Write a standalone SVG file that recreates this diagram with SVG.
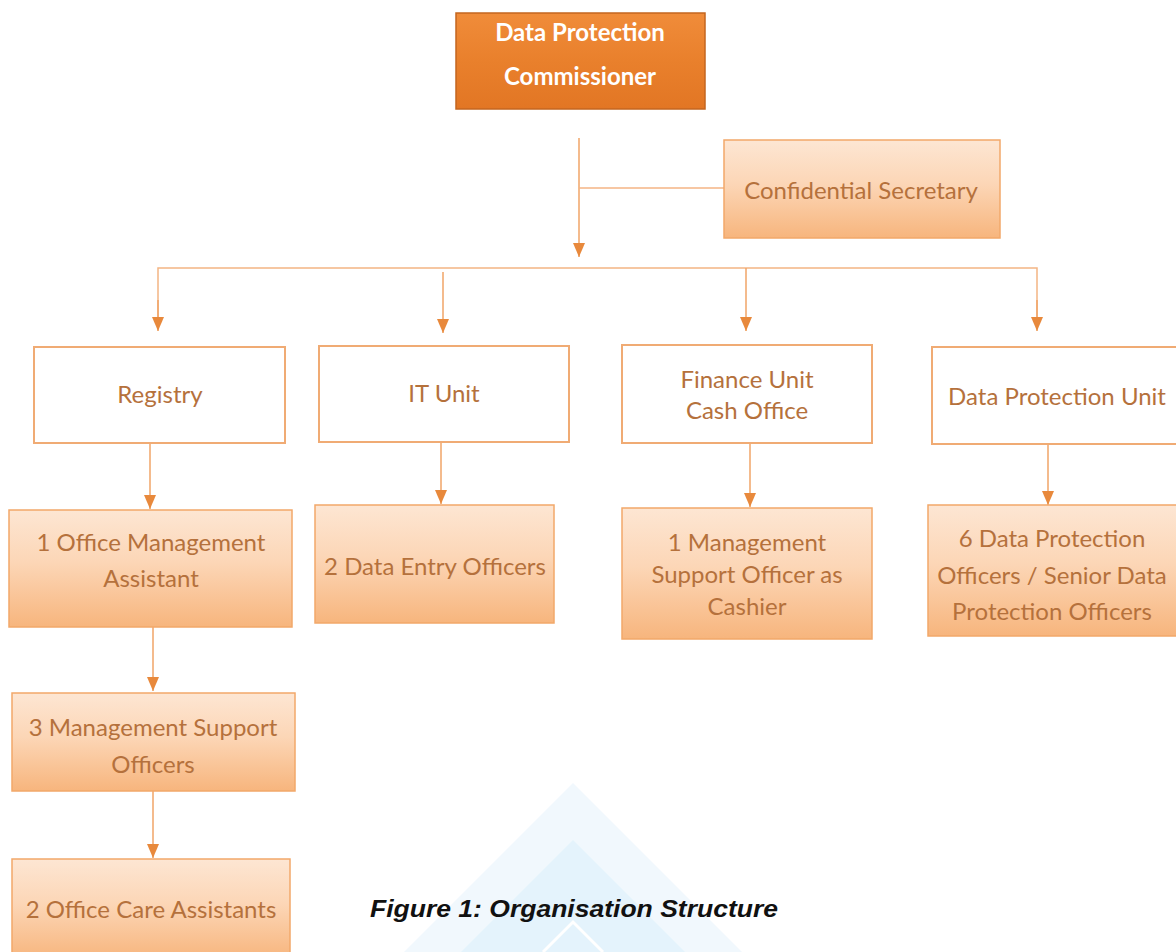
<svg xmlns="http://www.w3.org/2000/svg" width="1176" height="952" viewBox="0 0 1176 952">
<defs>
<linearGradient id="gTop" x1="0" y1="0" x2="0" y2="1">
<stop offset="0" stop-color="#f08c3a"/>
<stop offset="0.5" stop-color="#e9802c"/>
<stop offset="1" stop-color="#e27624"/>
</linearGradient>
<linearGradient id="gLight" x1="0" y1="0" x2="0" y2="1">
<stop offset="0" stop-color="#fde6d3"/>
<stop offset="0.45" stop-color="#fcd6b6"/>
<stop offset="1" stop-color="#f7b57d"/>
</linearGradient>
<marker id="arr" markerUnits="userSpaceOnUse" markerWidth="14" markerHeight="12" refX="14" refY="6" orient="auto" viewBox="0 0 14 12">
<path d="M0,0 L14,6 L0,12 Z" fill="#e8893c"/>
</marker>
<style>
.top{fill:url(#gTop);stroke:#c4661f;stroke-width:1.5}
.fill{fill:url(#gLight);stroke:#f2a86a;stroke-width:1.5}
.white{fill:#ffffff;stroke:#f0ab74;stroke-width:2}
.t{font-family:Lato,"Open Sans","Liberation Sans",sans-serif;font-size:24px;fill:#b5713c;text-anchor:middle}
.tw{font-family:Lato,"Open Sans","Liberation Sans",sans-serif;font-size:24px;font-weight:bold;fill:#ffffff;text-anchor:middle}
.c{fill:none;stroke:#f4b584;stroke-width:1.5}
.ca{fill:none;stroke:#f0a467;stroke-width:1.5;marker-end:url(#arr)}
.cap{font-family:"Liberation Sans",Arial,sans-serif;font-size:23px;font-weight:bold;font-style:italic;fill:#111111}
</style>
</defs>
<rect width="1176" height="952" fill="#ffffff"/>
<g id="watermark">
<polygon points="573,783 742,952 404,952" fill="#f1f8fd"/>
<polygon points="573,840 685,952 461,952" fill="#e4f3fc"/>
<polyline points="543,952 573,922 603,952" fill="none" stroke="#ffffff" stroke-width="3"/>
</g>
<g id="connectors">
<line class="ca" x1="579" y1="138" x2="579" y2="257"/>
<line class="c" x1="579" y1="188" x2="724" y2="188"/>
<polyline class="c" points="158,320 158,268 1037,268 1037,320"/>
<line class="ca" x1="158" y1="300" x2="158" y2="331"/>
<line class="ca" x1="443" y1="272" x2="443" y2="333"/>
<line class="ca" x1="746" y1="268" x2="746" y2="331"/>
<line class="ca" x1="1037" y1="300" x2="1037" y2="331"/>
<line class="ca" x1="150" y1="443" x2="150" y2="509"/>
<line class="ca" x1="441" y1="442" x2="441" y2="504"/>
<line class="ca" x1="750" y1="443" x2="750" y2="507"/>
<line class="ca" x1="1048" y1="445" x2="1048" y2="505"/>
<line class="ca" x1="153" y1="627" x2="153" y2="691"/>
<line class="ca" x1="153" y1="791" x2="153" y2="858"/>
</g>
<g id="n-commissioner">
<rect class="top" x="456" y="13" width="249" height="96"/>
<text class="tw" x="580" y="41">Data Protection</text>
<text class="tw" x="580" y="85">Commissioner</text>
</g>
<g id="n-secretary">
<rect class="fill" x="724" y="140" width="276" height="98"/>
<text class="t" x="861" y="199">Confidential Secretary</text>
</g>
<g id="n-registry">
<rect class="white" x="34" y="347" width="251" height="96"/>
<text class="t" x="160" y="403">Registry</text>
</g>
<g id="n-it">
<rect class="white" x="319" y="346" width="250" height="96"/>
<text class="t" x="444" y="402">IT Unit</text>
</g>
<g id="n-finance">
<rect class="white" x="622" y="345" width="250" height="98"/>
<text class="t" x="747" y="388">Finance Unit</text>
<text class="t" x="747" y="419">Cash Office</text>
</g>
<g id="n-dpu">
<rect class="white" x="932" y="347" width="246" height="97"/>
<text class="t" x="1057" y="405">Data Protection Unit</text>
</g>
<g id="n-oma">
<rect class="fill" x="9" y="510" width="283" height="117"/>
<text class="t" x="151" y="551">1 Office Management</text>
<text class="t" x="151" y="587">Assistant</text>
</g>
<g id="n-deo">
<rect class="fill" x="315" y="505" width="239" height="118"/>
<text class="t" x="435" y="575">2 Data Entry Officers</text>
</g>
<g id="n-cashier">
<rect class="fill" x="622" y="508" width="250" height="131"/>
<text class="t" x="747" y="551">1 Management</text>
<text class="t" x="747" y="583">Support Officer as</text>
<text class="t" x="747" y="615">Cashier</text>
</g>
<g id="n-dpo">
<rect class="fill" x="928" y="505" width="250" height="131"/>
<text class="t" x="1052" y="547">6 Data Protection</text>
<text class="t" x="1052" y="584">Officers / Senior Data</text>
<text class="t" x="1052" y="620">Protection Officers</text>
</g>
<g id="n-mso">
<rect class="fill" x="12" y="693" width="283" height="98"/>
<text class="t" x="153" y="736">3 Management Support</text>
<text class="t" x="153" y="773">Officers</text>
</g>
<g id="n-oca">
<rect class="fill" x="12" y="859" width="278" height="100"/>
<text class="t" x="151" y="918">2 Office Care Assistants</text>
</g>
<text class="cap" x="370" y="917" textLength="408" lengthAdjust="spacingAndGlyphs">Figure 1: Organisation Structure</text>
</svg>
